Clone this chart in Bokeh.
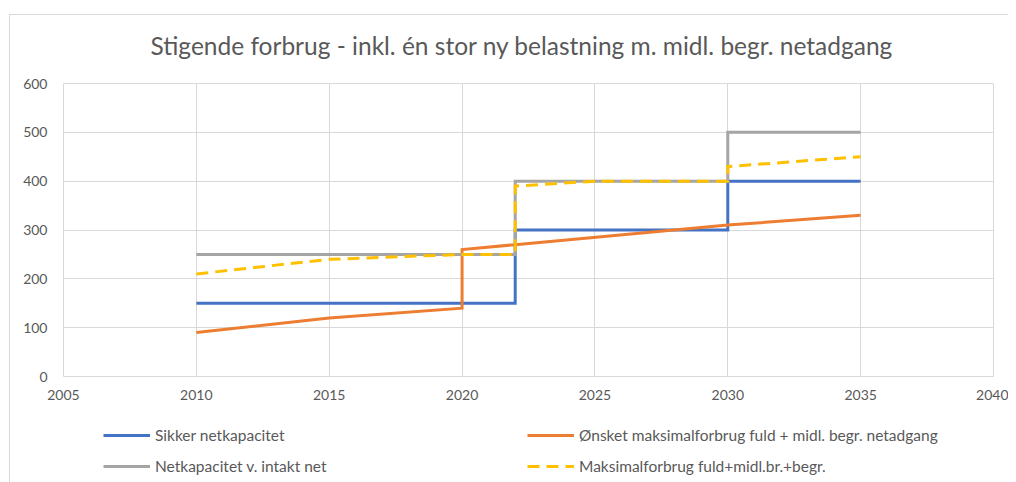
from bokeh.plotting import figure
from bokeh.layouts import column
from bokeh.models import Legend, LegendItem, FixedTicker, Range1d
from bokeh.embed import file_html
from bokeh.resources import INLINE

# ---- data ----
title_text = "Stigende forbrug - inkl. én stor ny belastning m. midl. begr. netadgang"
x_ticks = [2005, 2010, 2015, 2020, 2025, 2030, 2035, 2040]
y_ticks = [0, 100, 200, 300, 400, 500, 600]

sikker_years = [2010, 2022, 2022, 2030, 2030, 2035]
sikker_vals = [150, 150, 300, 300, 400, 400]

onsket_years = [2010, 2015, 2020, 2020, 2022, 2030, 2035]
onsket_vals = [90, 120, 140, 260, 270, 310, 330]

netkap_years = [2010, 2022, 2022, 2030, 2030, 2035]
netkap_vals = [250, 250, 400, 400, 500, 500]

maks_years = [2010, 2015, 2020, 2022, 2022, 2025, 2030, 2030, 2035]
maks_vals = [210, 240, 250, 250, 390, 400, 400, 430, 450]

labels = [
    "Sikker netkapacitet",
    "Ønsket maksimalforbrug fuld + midl. begr. netadgang",
    "Netkapacitet v. intakt net",
    "Maksimalforbrug fuld+midl.br.+begr.",
]
colors = ["#4472C4", "#ED7D31", "#A5A5A5", "#FFC000"]
dashes = ["solid", "solid", "solid", "12 7"]

FONT = "Lato"
TXT = "#595959"
GRID = "#d9d9d9"


def blank_strip(h):
    f = figure(width=998, height=h, output_backend="svg", toolbar_location=None,
               x_range=Range1d(0, 1), y_range=Range1d(0, 1),
               x_axis_type=None, y_axis_type=None,
               min_border_left=0, min_border_right=0, min_border_top=0, min_border_bottom=0)
    f.outline_line_color = None
    f.xgrid.visible = False
    f.ygrid.visible = False
    f.background_fill_color = "white"
    f.border_fill_color = "white"
    return f


# ---- title strip ----
tf = blank_strip(58)
tf.title.text = title_text
tf.title.align = "left"
tf.title.offset = 87
tf.title.standoff = 28
tf.title.text_font = FONT
tf.title.text_font_size = "24.5px"
tf.title.text_font_style = "normal"
tf.title.text_color = TXT

# ---- chart ----
p = figure(width=998, height=337, output_backend="svg", toolbar_location=None,
           x_range=Range1d(2005, 2040), y_range=Range1d(0, 600),
           min_border_left=53, min_border_right=15, min_border_top=10, min_border_bottom=34)

p.outline_line_color = GRID
p.background_fill_color = "white"
p.border_fill_color = "white"

for ax in (p.xaxis[0], p.yaxis[0]):
    ax.axis_line_color = None
    ax.major_tick_line_color = None
    ax.minor_tick_line_color = None
    ax.major_tick_out = 0
    ax.major_tick_in = 0
    ax.minor_tick_out = 0
    ax.minor_tick_in = 0
    ax.major_label_text_font = FONT
    ax.major_label_text_font_size = "14px"
    ax.major_label_text_color = TXT
p.xaxis[0].ticker = FixedTicker(ticks=x_ticks)
p.yaxis[0].ticker = FixedTicker(ticks=y_ticks)
p.xaxis[0].major_label_standoff = 13
p.yaxis[0].major_label_standoff = 16

p.xgrid[0].ticker = FixedTicker(ticks=x_ticks)
p.ygrid[0].ticker = FixedTicker(ticks=y_ticks)
p.xgrid.grid_line_color = GRID
p.ygrid.grid_line_color = GRID
p.xgrid.grid_line_width = 1
p.ygrid.grid_line_width = 1

series = [(sikker_years, sikker_vals), (onsket_years, onsket_vals),
          (netkap_years, netkap_vals), (maks_years, maks_vals)]
for (xs, ys), c, d in zip(series, colors, dashes):
    p.line(xs, ys, line_color=c, line_width=3, line_dash=d, line_join="miter")

# ---- legend strip (separate figure below the chart) ----
lf = blank_strip(72)
items = []
for lab, c, d in zip(labels, colors, dashes):
    # swatch-only renderer, placed outside the visible range
    r = lf.line(x=[-10, -9], y=[-10, -9], line_color=c, line_width=3, line_dash=d)
    items.append(LegendItem(label=lab, renderers=[r]))

legend = Legend(items=items, orientation="horizontal", ncols=2, location=(40, 6))
legend.padding = 0
legend.margin = 0
legend.border_line_color = None
legend.background_fill_alpha = 0
legend.glyph_width = 47
legend.glyph_height = 20
legend.label_standoff = 5
legend.label_height = 20
legend.label_width = 361
legend.spacing = 11
legend.label_text_font = FONT
legend.label_text_font_size = "15.5px"
legend.label_text_color = TXT
lf.add_layout(legend, "center")

layout = column(tf, p, lf, spacing=0)
layout.margin = (14, 0, 0, 9)
layout.styles = {"border-left": "1px solid #d9d9d9", "border-top": "1px solid #d9d9d9"}

open("out.html", "w").write(file_html(layout, INLINE))
